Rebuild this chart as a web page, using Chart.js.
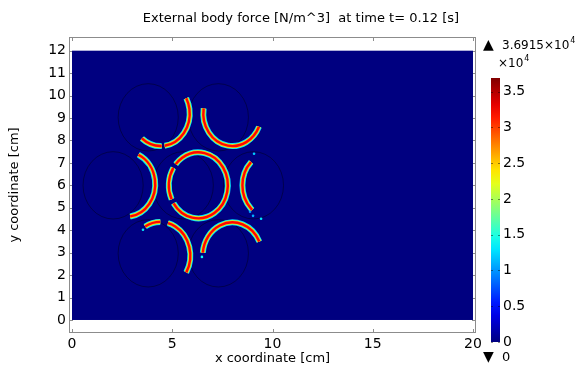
<!DOCTYPE html>
<html>
  <head>
    <title>External body force</title>
    <script src="https://cdn.jsdelivr.net/npm/chart.js@4.4.1/dist/chart.umd.min.js"></script>
    <style>
      body { margin: 0; background: #fff; }
      .box { position: absolute; top: 0; height: 368px; }
    </style>
  </head>

  <body>
    <div class="box" style="left: 0; width: 578px"><canvas id="field"></canvas></div>
    <div class="box" style="left: 480px; width: 98px"><canvas id="legend"></canvas></div>
    <script>
      const FONT = 'DejaVu Sans';

      const xTicks = [0, 5, 10, 15, 20];
      const yTicks = [0, 1, 2, 3, 4, 5, 6, 7, 8, 9, 10, 11, 12];
      const domainX = [0, 20];
      const domainY = [0, 12];

      // particle outlines at t = 0 [cm]
      const circleX = [2.05, 5.55, 9.05, 3.8, 7.3, 3.8, 7.3];
      const circleY = [6, 6, 6, 9.03, 9.03, 2.97, 2.97];
      const circleR = 1.5;

      // force bands: arc centre, radius [cm], start / end angle [deg, ccw]
      const bandX = [4.42, 4.42, 8.0, 2.7, 6.3, 6.3, 9.97, 4.4, 4.4, 8.0];
      const bandY = [9.2, 9.2, 9.2, 6.05, 6.0, 6.0, 6.0, 2.87, 2.87, 2.87];
      const bandR = [1.45, 1.45, 1.45, 1.45, 1.47, 1.47, 1.47, 1.5, 1.5, 1.48];
      const bandFrom = [230, 278, 171, -82, 148, 213, 135, 90, -30, 25];
      const bandTo = [272, 388, 336, 65, 205, 500, 228, 120, 75, 175];

      // isolated cells with nonzero force
      const speckX = [9.08, 9.43, 8.88, 9.03, 6.48, 3.54];
      const speckY = [7.41, 4.51, 4.82, 4.64, 2.81, 4.02];
      const speckV = [1.2, 1.3, 1.0, 1.1, 1.4, 1.3]; // x10^4 N/m^3

      const colorMax = 3.6915; // x10^4
      const colorTicks = [0, 0.5, 1, 1.5, 2, 2.5, 3, 3.5];

      function jet(t) {
        const c = (v) => Math.round(255 * Math.min(1, Math.max(0, v)));
        return `rgb(${c(1.5 - Math.abs(4 * t - 3))},${c(1.5 - Math.abs(4 * t - 2))},${c(1.5 - Math.abs(4 * t - 1))})`;
      }

      // band cross-section: outer blue edge down to the red core
      const bandLayers = [
        [6, 0.34],
        [4.6, 0.5],
        [3.6, 0.68],
        [2.4, 0.87],
      ];

      const fieldPlugin = {
        id: 'field',
        beforeDatasetsDraw(chart) {
          const { ctx, chartArea: a } = chart;
          const { x, y } = chart.scales;
          ctx.save();

          // frame with inward ticks
          ctx.strokeStyle = '#8c8c8c';
          ctx.lineWidth = 1;
          ctx.strokeRect(a.left + 0.5, a.top + 0.5, a.width - 1, a.height - 1);
          ctx.beginPath();
          xTicks.forEach((v) => {
            const px = Math.round(x.getPixelForValue(v)) + 0.5;
            ctx.moveTo(px, a.bottom);
            ctx.lineTo(px, a.bottom - 4);
            ctx.moveTo(px, a.top);
            ctx.lineTo(px, a.top + 4);
          });
          yTicks.forEach((v) => {
            const py = Math.round(y.getPixelForValue(v)) + 0.5;
            ctx.moveTo(a.left, py);
            ctx.lineTo(a.left + 4, py);
            ctx.moveTo(a.right, py);
            ctx.lineTo(a.right - 4, py);
          });
          ctx.stroke();

          // computational domain
          const x0 = x.getPixelForValue(domainX[0]);
          const x1 = x.getPixelForValue(domainX[1]);
          const y0 = y.getPixelForValue(domainY[0]);
          const y1 = y.getPixelForValue(domainY[1]);
          ctx.fillStyle = jet(0);
          ctx.fillRect(x0, y1, x1 - x0, y0 - y1);

          const sx = x.getPixelForValue(1) - x.getPixelForValue(0);
          const sy = y.getPixelForValue(0) - y.getPixelForValue(1);

          ctx.strokeStyle = 'rgba(0,0,0,0.5)';
          ctx.lineWidth = 0.8;
          circleX.forEach((cx, i) => {
            ctx.beginPath();
            ctx.ellipse(x.getPixelForValue(cx), y.getPixelForValue(circleY[i]), circleR * sx, circleR * sy, 0, 0, 2 * Math.PI);
            ctx.stroke();
          });

          const rad = Math.PI / 180;
          bandLayers.forEach(([w, t]) => {
            ctx.strokeStyle = jet(t);
            ctx.lineWidth = w;
            bandX.forEach((cx, i) => {
              ctx.beginPath();
              ctx.ellipse(
                x.getPixelForValue(cx),
                y.getPixelForValue(bandY[i]),
                bandR[i] * sx,
                bandR[i] * sy,
                0,
                -bandFrom[i] * rad,
                -bandTo[i] * rad,
                true
              );
              ctx.stroke();
            });
          });
          ctx.restore();
        },
        afterDraw(chart) {
          const { ctx } = chart;
          ctx.save();
          ctx.fillStyle = '#000';
          ctx.font = `13px "${FONT}"`;
          ctx.textAlign = 'center';
          ctx.textBaseline = 'middle';
          ctx.fillText('External body force [N/m^3]  at time t= 0.12 [s]', 301, 19);
          ctx.restore();
        },
      };

      new Chart(document.getElementById('field'), {
        type: 'scatter',
        data: {
          datasets: [
            {
              data: speckX.map((v, i) => ({ x: v, y: speckY[i] })),
              pointRadius: 1.3,
              pointBorderWidth: 0,
              pointBackgroundColor: speckV.map((v) => jet(v / colorMax)),
            },
          ],
        },
        options: {
          responsive: true,
          maintainAspectRatio: false,
          animation: false,
          layout: { padding: { top: 37, right: 102, bottom: 0, left: 0 } },
          plugins: {
            legend: { display: false },
            tooltip: { enabled: false },
          },
          scales: {
            x: {
              type: 'linear',
              min: -0.15,
              max: 20.15,
              afterBuildTicks: (s) => {
                s.ticks = xTicks.map((v) => ({ value: v }));
              },
              afterFit: (s) => {
                s.height = 35;
              },
              grid: { display: false, drawTicks: false },
              border: { display: false },
              ticks: { color: '#000', padding: 3, maxRotation: 0, font: { family: FONT, size: 14 } },
              title: {
                display: true,
                text: 'x coordinate [cm]',
                color: '#000',
                font: { family: FONT, size: 13 },
                padding: { top: 0, bottom: 2 },
              },
            },
            y: {
              type: 'linear',
              min: -0.58,
              max: 12.61,
              afterBuildTicks: (s) => {
                s.ticks = yTicks.map((v) => ({ value: v }));
              },
              afterFit: (s) => {
                s.width = 69;
              },
              grid: { display: false, drawTicks: false },
              border: { display: false },
              ticks: { color: '#000', padding: 3, font: { family: FONT, size: 14 } },
              title: {
                display: true,
                text: 'y coordinate [cm]',
                color: '#000',
                font: { family: FONT, size: 13 },
                padding: { top: 7, bottom: 0 },
              },
            },
          },
        },
        plugins: [fieldPlugin],
      });

      // colour legend
      const legendPlugin = {
        id: 'legendMarks',
        afterDatasetsDraw(chart) {
          const { ctx, chartArea: a } = chart;
          const s = chart.scales.y;
          ctx.save();
          ctx.strokeStyle = 'rgba(0,0,0,0.45)';
          ctx.lineWidth = 1;
          ctx.beginPath();
          colorTicks.forEach((v) => {
            const py = Math.round(s.getPixelForValue(v)) + 0.5;
            ctx.moveTo(a.left, py);
            ctx.lineTo(a.left + 2, py);
            ctx.moveTo(a.right, py);
            ctx.lineTo(a.right - 2, py);
          });
          ctx.stroke();

          ctx.fillStyle = '#000';
          ctx.textBaseline = 'middle';
          ctx.textAlign = 'left';
          ctx.font = `14px "${FONT}"`;
          ctx.fillText('\u25B2', 3, 45);
          ctx.fillText('\u25BC', 3, 357);
          ctx.font = `13px "${FONT}"`;
          ctx.fillText('0', 22, 358);
          ctx.font = `12px "${FONT}"`;
          const top = '3.6915\u00D710';
          ctx.fillText(top, 22, 46);
          const w1 = ctx.measureText(top).width;
          ctx.fillText('\u00D710', 18, 64);
          const w2 = ctx.measureText('\u00D710').width;
          ctx.font = `8px "${FONT}"`;
          ctx.fillText('4', 22 + w1 + 1, 41);
          ctx.fillText('4', 18 + w2 + 1, 59);
          ctx.restore();
        },
      };

      new Chart(document.getElementById('legend'), {
        type: 'bar',
        data: {
          labels: ['F'],
          datasets: [
            {
              data: [colorMax],
              barPercentage: 1,
              categoryPercentage: 1,
              borderWidth: 0,
              backgroundColor: (context) => {
                const { ctx, chartArea } = context.chart;
                if (!chartArea) return jet(0);
                const g = ctx.createLinearGradient(0, chartArea.bottom, 0, chartArea.top);
                for (let i = 0; i <= 20; i++) g.addColorStop(i / 20, jet(i / 20));
                return g;
              },
            },
          ],
        },
        options: {
          responsive: true,
          maintainAspectRatio: false,
          animation: false,
          layout: { padding: { top: 78, right: 0, bottom: 26, left: 11 } },
          plugins: { legend: { display: false }, tooltip: { enabled: false } },
          scales: {
            x: { display: false },
            y: {
              position: 'right',
              min: 0,
              max: colorMax,
              afterBuildTicks: (s) => {
                s.ticks = colorTicks.map((v) => ({ value: v }));
              },
              afterFit: (s) => {
                s.width = 78;
              },
              grid: { display: false, drawTicks: false },
              border: { display: false },
              ticks: {
                color: '#000',
                padding: 3,
                font: { family: FONT, size: 14 },
                callback: (v) => String(v),
              },
            },
          },
        },
        plugins: [legendPlugin],
      });
    </script>
  </body>
</html>
